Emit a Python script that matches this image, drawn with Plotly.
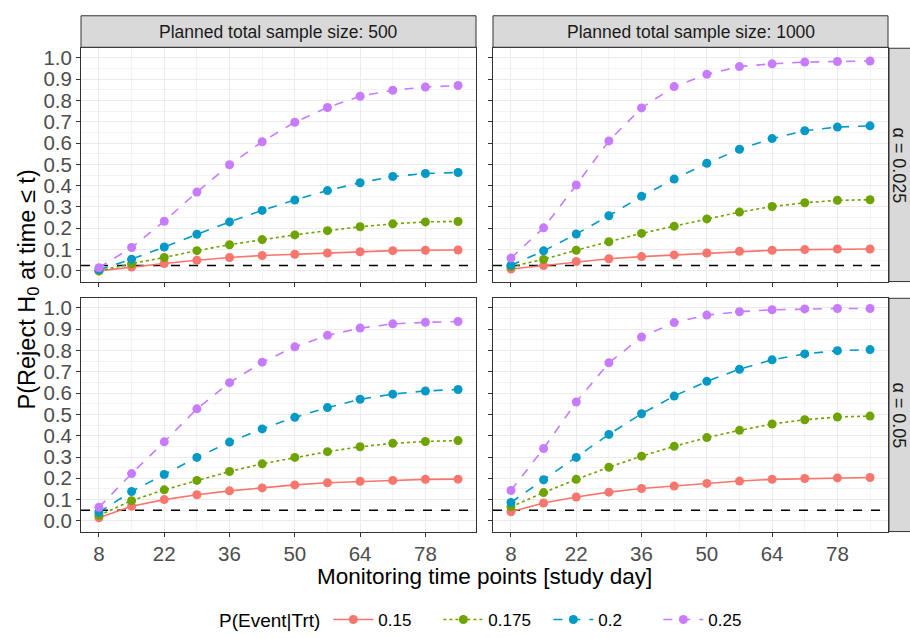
import plotly.graph_objects as go

days = [8, 15, 22, 29, 36, 43, 50, 57, 64, 71, 78, 85]
x_ticks = [8, 22, 36, 50, 64, 78]
y_ticks = [0.0, 0.1, 0.2, 0.3, 0.4, 0.5, 0.6, 0.7, 0.8, 0.9, 1.0]
groups = ["0.15", "0.175", "0.2", "0.25"]
sample_sizes = ["Planned total sample size: 500", "Planned total sample size: 1000"]
alphas = [0.025, 0.05]
alpha_labels = ["α = 0.025", "α = 0.05"]

# alpha = 0.025, n = 500
a025_n500_p150 = [0.00, 0.018, 0.035, 0.050, 0.063, 0.072, 0.078, 0.084, 0.090, 0.095, 0.097, 0.098]
a025_n500_p175 = [0.00, 0.034, 0.063, 0.095, 0.123, 0.147, 0.169, 0.189, 0.207, 0.221, 0.230, 0.232]
a025_n500_p200 = [0.005, 0.055, 0.112, 0.172, 0.230, 0.284, 0.333, 0.377, 0.414, 0.443, 0.457, 0.462]
a025_n500_p250 = [0.015, 0.110, 0.233, 0.370, 0.498, 0.606, 0.698, 0.767, 0.820, 0.848, 0.863, 0.870]
# alpha = 0.025, n = 1000
a025_n1000_p150 = [0.009, 0.025, 0.044, 0.057, 0.067, 0.075, 0.084, 0.092, 0.097, 0.100, 0.103, 0.103]
a025_n1000_p175 = [0.020, 0.054, 0.097, 0.137, 0.176, 0.210, 0.244, 0.276, 0.302, 0.320, 0.331, 0.334]
a025_n1000_p200 = [0.026, 0.094, 0.173, 0.259, 0.350, 0.431, 0.505, 0.571, 0.621, 0.658, 0.675, 0.681]
a025_n1000_p250 = [0.060, 0.202, 0.403, 0.610, 0.765, 0.865, 0.923, 0.959, 0.972, 0.980, 0.983, 0.985]
# alpha = 0.05, n = 500
a05_n500_p150 = [0.015, 0.069, 0.100, 0.123, 0.141, 0.155, 0.169, 0.179, 0.186, 0.190, 0.195, 0.196]
a05_n500_p175 = [0.026, 0.095, 0.146, 0.190, 0.232, 0.268, 0.298, 0.325, 0.348, 0.364, 0.373, 0.377]
a05_n500_p200 = [0.041, 0.138, 0.218, 0.298, 0.370, 0.432, 0.486, 0.532, 0.571, 0.595, 0.610, 0.617]
a05_n500_p250 = [0.064, 0.222, 0.371, 0.526, 0.649, 0.745, 0.817, 0.871, 0.905, 0.925, 0.932, 0.936]
# alpha = 0.05, n = 1000
a05_n1000_p150 = [0.043, 0.084, 0.112, 0.135, 0.152, 0.164, 0.176, 0.187, 0.195, 0.199, 0.202, 0.204]
a05_n1000_p175 = [0.066, 0.133, 0.195, 0.252, 0.304, 0.350, 0.391, 0.425, 0.455, 0.475, 0.488, 0.492]
a05_n1000_p200 = [0.087, 0.193, 0.298, 0.406, 0.503, 0.586, 0.655, 0.712, 0.756, 0.784, 0.799, 0.804]
a05_n1000_p250 = [0.143, 0.340, 0.558, 0.742, 0.863, 0.931, 0.966, 0.982, 0.991, 0.995, 0.997, 0.997]

panels = {
    (0, 0): [a025_n500_p150, a025_n500_p175, a025_n500_p200, a025_n500_p250],
    (0, 1): [a025_n1000_p150, a025_n1000_p175, a025_n1000_p200, a025_n1000_p250],
    (1, 0): [a05_n500_p150, a05_n500_p175, a05_n500_p200, a05_n500_p250],
    (1, 1): [a05_n1000_p150, a05_n1000_p175, a05_n1000_p200, a05_n1000_p250],
}

colors = ["#F8766D", "#6FA300", "#0399C6", "#C77CFF"]
dashes = ["solid", "dot", "dash", "dash"]

W, H = 910, 638
FONT = "Liberation Sans, Arial, sans-serif"

def px_x(p):
    return p / W

def px_y(p):
    return 1 - p / H

col_px = [(81, 476), (493, 888)]
row_px = [(47, 284), (301, 538)]

fig = go.Figure()
layout = {}
ax_idx = 0
for r in range(2):
    for c in range(2):
        ax_idx += 1
        sfx = "" if ax_idx == 1 else str(ax_idx)
        xa, ya = "x" + sfx, "y" + sfx
        fig.add_trace(go.Scatter(
            x=[4.15, 88.85], y=[alphas[r], alphas[r]], xaxis=xa, yaxis=ya,
            mode="lines", showlegend=False, hoverinfo="skip",
            line=dict(color="black", width=1.6, dash="dash"),
        ))
        for g in range(4):
            fig.add_trace(go.Scatter(
                x=days, y=panels[(r, c)][g], xaxis=xa, yaxis=ya,
                mode="lines+markers", name=groups[g], legendgroup=groups[g],
                showlegend=(ax_idx == 1),
                line=dict(color=colors[g], width=1.6, dash=dashes[g]),
                marker=dict(color=colors[g], size=9),
            ))
        layout["xaxis" + sfx] = dict(
            domain=[px_x(col_px[c][0]), px_x(col_px[c][1])], anchor=ya,
            range=[4.15, 88.85], tickvals=x_ticks,
            showticklabels=(r == 1), ticks="outside", ticklen=4, tickcolor="#333333",
            tickfont=dict(size=20.5, color="#4D4D4D", family=FONT),
            showgrid=True, gridcolor="#EBEBEB", gridwidth=1.2,
            minor=dict(tickvals=[15, 29, 43, 57, 71, 85], showgrid=True, gridcolor="#F3F3F3", gridwidth=0.8),
            zeroline=False, showline=True, mirror=True, linecolor="#333333", linewidth=1,
        )
        layout["yaxis" + sfx] = dict(
            domain=[px_y(row_px[r][1]), px_y(row_px[r][0])], anchor=xa,
            range=[-0.05, 1.045], tickvals=y_ticks, ticktext=["%.1f" % v for v in y_ticks],
            showticklabels=(c == 0), ticks="outside", ticklen=4, tickcolor="#333333",
            tickfont=dict(size=20.5, color="#4D4D4D", family=FONT),
            showgrid=True, gridcolor="#EBEBEB", gridwidth=1.2,
            minor=dict(tickvals=[round(v + 0.05, 2) for v in y_ticks[:-1]], showgrid=True, gridcolor="#F3F3F3", gridwidth=0.8),
            zeroline=False, showline=True, mirror=True, linecolor="#333333", linewidth=1,
        )

shapes = []
annotations = []
for c in range(2):
    shapes.append(dict(type="rect", xref="paper", yref="paper",
                       x0=px_x(col_px[c][0]), x1=px_x(col_px[c][1]),
                       y0=px_y(46), y1=px_y(14),
                       fillcolor="#D9D9D9", line=dict(color="#333333", width=1)))
    annotations.append(dict(text=sample_sizes[c], xref="paper", yref="paper",
                            x=(px_x(col_px[c][0]) + px_x(col_px[c][1])) / 2, y=px_y(30),
                            xanchor="center", yanchor="middle",
                            showarrow=False, font=dict(size=17.5, color="#1A1A1A", family=FONT)))
for r in range(2):
    shapes.append(dict(type="rect", xref="paper", yref="paper",
                       x0=px_x(889), x1=px_x(915),
                       y0=px_y(row_px[r][1]), y1=px_y(row_px[r][0]),
                       fillcolor="#D9D9D9", line=dict(color="#333333", width=1)))
    annotations.append(dict(text=alpha_labels[r], xref="paper", yref="paper",
                            x=px_x(899.5), y=(px_y(row_px[r][0]) + px_y(row_px[r][1])) / 2,
                            xanchor="center", yanchor="middle",
                            textangle=90, showarrow=False,
                            font=dict(size=18, color="#1A1A1A", family=FONT)))

annotations.append(dict(text="Monitoring time points [study day]", xref="paper", yref="paper",
                        x=px_x(484), y=px_y(584), xanchor="center", yanchor="middle", showarrow=False,
                        font=dict(size=22.5, color="#000000", family=FONT)))
annotations.append(dict(text="P(Reject H<sub>0</sub> at time ≤ t)", xref="paper", yref="paper",
                        x=px_x(28), y=px_y(292), xanchor="center", yanchor="middle",
                        textangle=-90, showarrow=False,
                        font=dict(size=23.5, color="#000000", family=FONT)))

fig.update_layout(
    width=W, height=H, margin=dict(l=0, r=0, t=0, b=0),
    paper_bgcolor="white", plot_bgcolor="white",
    shapes=shapes, annotations=annotations,
    legend=dict(orientation="h", x=px_x(217), xanchor="left", y=px_y(628), yanchor="middle",
                title=dict(text="P(Event|Trt)", font=dict(size=19, color="#000000", family=FONT)),
                font=dict(size=17, color="#000000", family=FONT), itemwidth=40,
                entrywidth=55, entrywidthmode="pixels",
                bgcolor="rgba(0,0,0,0)"),
    **layout,
)

fig.write_html("out.html", config={"displayModeBar": False},
               post_script="document.body.style.margin='0px';document.body.style.overflow='hidden';")
